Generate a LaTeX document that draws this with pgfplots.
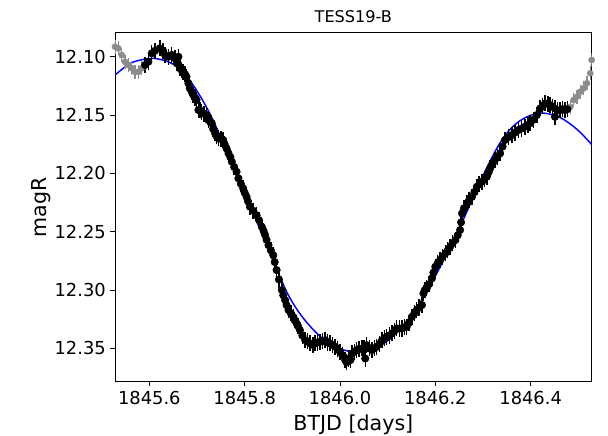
\documentclass[border=0pt]{standalone}
\usepackage{fontspec}
\setmainfont{DejaVu Sans}
\usepackage{pgfplots}
\pgfplotsset{compat=1.18}
\pgfplotstableread{
x y
1845.521 12.0890
1845.528 12.0914
1845.535 12.0928
1845.542 12.0985
1845.549 12.1043
1845.556 12.1071
1845.563 12.1099
1845.570 12.1129
1845.577 12.1129
1845.584 12.1099
1846.483 12.1429
1846.490 12.1371
1846.497 12.1343
1846.504 12.1300
1846.511 12.1271
1846.518 12.1228
1846.525 12.1142
1846.528 12.1028
1846.535 12.0980
}\graydata
\pgfplotstableread{
x y
1845.591 12.1071
1845.598 12.1043
1845.605 12.0971
1845.612 12.0949
1845.622 12.0928
1845.629 12.0949
1845.633 12.0985
1845.640 12.1000
1845.647 12.0985
1845.654 12.1014
1845.661 12.1000
1845.658 12.1057
1845.664 12.1099
1845.667 12.1110
1845.671 12.1129
1845.675 12.1150
1845.678 12.1172
1845.682 12.1228
1845.685 12.1271
1845.689 12.1300
1845.692 12.1328
1845.696 12.1350
1845.699 12.1371
1845.703 12.1457
1845.706 12.1460
1845.710 12.1472
1845.715 12.1490
1845.720 12.1500
1845.724 12.1543
1845.728 12.1560
1845.731 12.1571
1845.734 12.1620
1845.738 12.1657
1845.741 12.1680
1845.745 12.1700
1845.750 12.1705
1845.755 12.1714
1845.758 12.1750
1845.762 12.1786
1845.766 12.1828
1845.770 12.1860
1845.773 12.1900
1845.778 12.1945
1845.783 12.1986
1845.787 12.2043
1845.792 12.2090
1845.797 12.2129
1845.800 12.2165
1845.804 12.2201
1845.807 12.2240
1845.811 12.2286
1845.818 12.2320
1845.825 12.2358
1845.830 12.2400
1845.836 12.2458
1845.840 12.2495
1845.843 12.2529
1845.846 12.2570
1845.850 12.2615
1845.855 12.2660
1845.860 12.2701
1845.863 12.2760
1845.867 12.2829
1845.872 12.2910
1845.878 12.3001
1845.881 12.3045
1845.885 12.3087
1845.888 12.3130
1845.892 12.3172
1845.897 12.3200
1845.902 12.3230
1845.905 12.3260
1845.909 12.3286
1845.912 12.3310
1845.916 12.3344
1845.921 12.3390
1845.927 12.3430
1845.932 12.3440
1845.937 12.3458
1845.943 12.3470
1845.948 12.3458
1845.953 12.3450
1845.958 12.3444
1845.963 12.3440
1845.969 12.3430
1845.974 12.3450
1845.979 12.3458
1845.984 12.3470
1845.990 12.3487
1845.995 12.3505
1846.000 12.3530
1846.005 12.3560
1846.011 12.3601
1846.014 12.3620
1846.018 12.3587
1846.022 12.3600
1846.025 12.3544
1846.030 12.3530
1846.035 12.3515
1846.040 12.3505
1846.046 12.3501
1846.050 12.3500
1846.053 12.3587
1846.056 12.3473
1846.062 12.3500
1846.067 12.3515
1846.072 12.3500
1846.077 12.3487
1846.083 12.3460
1846.088 12.3430
1846.093 12.3415
1846.098 12.3401
1846.104 12.3390
1846.109 12.3372
1846.114 12.3350
1846.119 12.3329
1846.125 12.3330
1846.130 12.3330
1846.135 12.3320
1846.140 12.3315
1846.145 12.3280
1846.151 12.3230
1846.156 12.3200
1846.161 12.3172
1846.166 12.3150
1846.172 12.3129
1846.175 12.3029
1846.178 12.3000
1846.182 12.2986
1846.187 12.2950
1846.193 12.2900
1846.196 12.2850
1846.200 12.2801
1846.205 12.2770
1846.210 12.2743
1846.215 12.2715
1846.221 12.2686
1846.226 12.2660
1846.231 12.2629
1846.236 12.2600
1846.242 12.2572
1846.247 12.2530
1846.252 12.2486
1846.254 12.2420
1846.256 12.2343
1846.260 12.2300
1846.266 12.2257
1846.271 12.2230
1846.277 12.2201
1846.282 12.2160
1846.287 12.2115
1846.292 12.2095
1846.298 12.2072
1846.303 12.2050
1846.308 12.2029
1846.312 12.1990
1846.315 12.1957
1846.320 12.1920
1846.325 12.1886
1846.330 12.1860
1846.336 12.1828
1846.341 12.1770
1846.346 12.1714
1846.353 12.1690
1846.361 12.1671
1846.367 12.1650
1846.374 12.1629
1846.381 12.1615
1846.388 12.1600
1846.394 12.1585
1846.399 12.1571
1846.406 12.1540
1846.413 12.1500
1846.420 12.1443
1846.425 12.1420
1846.430 12.1400
1846.436 12.1405
1846.441 12.1414
1846.446 12.1430
1846.451 12.1443
1846.451 12.1515
1846.456 12.1460
1846.462 12.1457
1846.467 12.1450
1846.472 12.1457
1846.477 12.1450
}\blackdata
\pgfplotstableread{
x y
1845.5280 12.1157
1845.5595 12.1058
1845.5868 12.1024
1845.6120 12.1015
1845.6434 12.1050
1845.6707 12.1127
1845.7001 12.1294
1845.7274 12.1491
1845.7547 12.1736
1845.7799 12.1980
1845.8071 12.2238
1845.8365 12.2521
1845.8638 12.2786
1845.8890 12.3022
1845.9121 12.3181
1845.9372 12.3310
1845.9624 12.3412
1845.9897 12.3485
1846.0170 12.3524
1846.0422 12.3532
1846.0674 12.3511
1846.0946 12.3451
1846.1219 12.3353
1846.1513 12.3207
1846.1828 12.3009
1846.2206 12.2718
1846.2583 12.2400
1846.2898 12.2109
1846.3171 12.1877
1846.3423 12.1697
1846.3696 12.1573
1846.3989 12.1504
1846.4262 12.1483
1846.4619 12.1521
1846.4976 12.1624
1846.5290 12.1757
}\fitdata
\begin{document}
\begin{tikzpicture}
\path[use as bounding box] (0pt,0pt) rectangle (456pt,327pt);
\begin{axis}[
  at={(86.25pt,40.725pt)}, anchor=south west,
  scale only axis, width=357.5pt, height=261.75pt,
  xmin=1845.528, xmax=1846.528, ymin=12.0794, ymax=12.3786,
  y dir=reverse,
  xtick={1845.6,1845.8,1846.0,1846.2,1846.4},
  xticklabels={1845.6,1845.8,1846.0,1846.2,1846.4},
  ytick={12.10,12.15,12.20,12.25,12.30,12.35},
  yticklabels={12.10,12.15,12.20,12.25,12.30,12.35},
  xtick pos=bottom, ytick pos=left,
  tick align=outside, major tick length=3.4pt,
  tick style={black, line width=0.6pt},
  ticklabel style={font=\fontsize{13.4}{16}\selectfont},
  axis line style={black, line width=0.6pt},
  clip=true,
]
\addplot[blue, line width=1.1pt, smooth, tension=0.55] table {\fitdata};
\addplot[only marks, mark=*, mark size=2.3pt, color=black!45,
  error bars/.cd, y dir=both, y fixed=0.0035,
  error bar style={color=black!45, line width=1pt},
  error mark options={color=black!45, mark size=2.3pt, line width=1pt}] table {\graydata};
\addplot[only marks, mark=*, mark size=2.8pt, color=black,
  error bars/.cd, y dir=both, y fixed=0.0038,
  error bar style={color=black, line width=1.1pt},
  error mark options={color=black, mark size=2.7pt, line width=1.1pt}] table {\blackdata};
\end{axis}
\node[anchor=center, font=\fontsize{12.1}{14}\selectfont] at (265pt,314.25pt) {TESS19-B};
\node[anchor=base, font=\fontsize{15.45}{18}\selectfont] at (265pt,4.1pt) {BTJD [days]};
\node[anchor=base, rotate=90, font=\fontsize{15.45}{18}\selectfont] at (35pt,171.6pt) {magR};
\end{tikzpicture}
\end{document}
